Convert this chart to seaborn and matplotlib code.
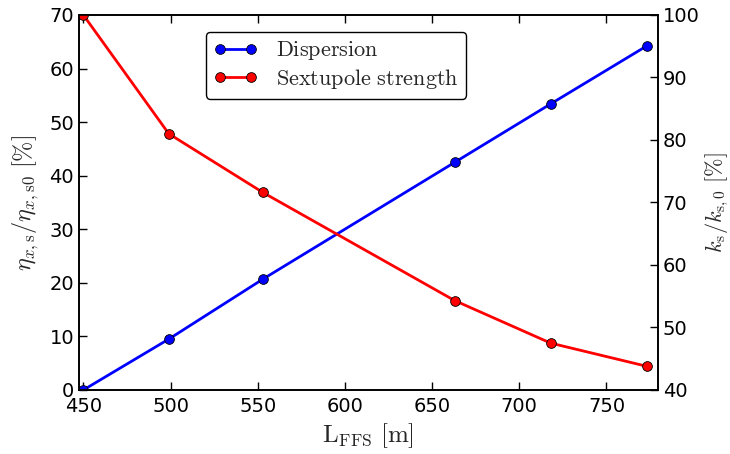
import matplotlib
matplotlib.use('Agg')
import matplotlib.pyplot as plt
import seaborn as sns
import pandas as pd

# FFS length and relative values
L_ffs = [450, 499, 553, 663, 718, 773]
dispersion = [0.0, 9.5, 20.7, 42.5, 53.4, 64.2]
sext_strength = [100.0, 81.0, 71.6, 54.3, 47.5, 43.8]

sns.set_style('ticks')
plt.rcParams['font.family'] = ['DejaVu Sans']
plt.rcParams['mathtext.fontset'] = 'cm'
plt.rcParams['xtick.direction'] = 'in'
plt.rcParams['ytick.direction'] = 'in'
plt.rcParams['xtick.top'] = True

df = pd.DataFrame({'L': L_ffs, 'disp': dispersion, 'sext': sext_strength})

fig = plt.figure(figsize=(7.3, 4.54), dpi=100)
ax1 = fig.add_axes([0.1082, 0.141, 0.793, 0.826])
ax2 = ax1.twinx()

sns.lineplot(data=df, x='L', y='disp', ax=ax1, color='#0000ff', lw=2,
             marker='o', markersize=7, markeredgecolor='k', markeredgewidth=0.6,
             label=r'$\mathrm{Dispersion}$', legend=False)
sns.lineplot(data=df, x='L', y='sext', ax=ax2, color='#ff0000', lw=2,
             marker='o', markersize=7, markeredgecolor='k', markeredgewidth=0.6,
             label=r'$\mathrm{Sextupole\ strength}$', legend=False)

ax1.set_xlim(447.5, 779.5)
ax1.set_ylim(0, 70)
ax2.set_ylim(40, 100)

ax1.set_xlabel(r'$\mathrm{L}_\mathrm{FFS}\ [\mathrm{m}]$', fontsize=18, labelpad=4)
ax1.set_ylabel(r'$\eta_{x,\mathrm{s}}/\eta_{x,\mathrm{s0}}\ [\%]$', fontsize=17.5, labelpad=6)
ax2.set_ylabel(r'$k_\mathrm{s}/k_{\mathrm{s},0}\ [\%]$', fontsize=16, labelpad=3)

for ax in (ax1, ax2):
    ax.tick_params(labelsize=14, width=1, length=6, direction='in',
                   colors='k', labelcolor='k')
    for sp in ax.spines.values():
        sp.set_linewidth(1.2)
        sp.set_color('k')
ax1.tick_params(axis='x', top=True, pad=5)

handles = ax1.get_lines() + ax2.get_lines()
leg = ax1.legend(handles, [h.get_label() for h in handles], loc='upper left',
                 bbox_to_anchor=(0.2, 0.985), numpoints=2, fontsize=16,
                 frameon=True, fancybox=True, edgecolor='k', framealpha=1,
                 handlelength=2, borderpad=0.35, labelspacing=0.2)
leg.get_frame().set_linewidth(1)

fig.savefig('out.png', dpi=100)
